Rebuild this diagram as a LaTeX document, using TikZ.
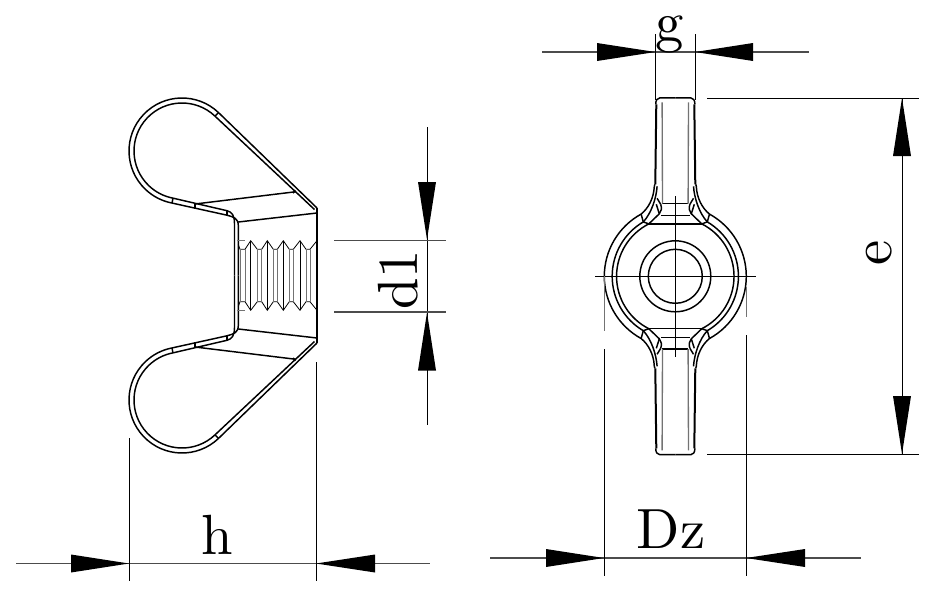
\documentclass[tikz,border=0pt]{standalone}
\tikzset{
  outl/.style={line width=1.1pt,black,line join=round},
  wingside/.style={line width=1.5pt,black,line join=round},
  thin1/.style={line width=0.6pt,black},
  graythin/.style={line width=0.7pt,black!55},
  dimv/.style={line width=0.7pt,black},
  dimh/.style={line width=0.8pt,black!70},
  lab/.style={anchor=base,inner sep=0pt,scale=4.25,font=\fontsize{10}{12}\selectfont},
  tipfill/.style={fill=black,draw=none}
}
\newcommand{\hdimtip}[3]{\fill[tipfill] (#1,#3) -- (#2,#3-9) -- (#2,#3+9) -- cycle;}
\newcommand{\vdimtip}[3]{\fill[tipfill] (#3,#1) -- (#3-9,#2) -- (#3+9,#2) -- cycle;}
\begin{document}
\begin{tikzpicture}[x=0.75pt,y=-0.75pt]
\useasboundingbox (0,0) rectangle (936,600);
% ---------- left view ----------
\foreach \s in {1,-1}{
\begin{scope}[shift={(0,275.5)},yscale=\s]
  \draw[outl] (317,-67.5) -- ([shift={(313.5:53)}]182,-124.5)
     arc[start angle=313.5,end angle=100.9,radius=53]
     -- (227,-60.3) .. controls (234,-58.5) and (238.3,-57) .. (238.3,-50) -- (238.3,0);
  \draw[outl] (314.5,-66) -- ([shift={(313.5:48)}]182,-124.5)
     arc[start angle=313.5,end angle=100.9,radius=48]
     -- (227,-64.8) .. controls (232,-63.5) and (234.5,-60) .. (234.5,-52) -- (234.5,0);
  \draw[outl] (218.5,-162.9) -- (215,-159.3);
  \draw[outl] (172,-72.5) -- (173,-77.5);
  \draw[outl] (195,-71.5) -- (195,-66.5);
  \draw[outl] (226.8,-64.8) -- (226.8,-60);
  \draw[outl] (195,-71.5) -- (296,-83.8);
  \draw[outl] (238.3,-53.5) -- (317,-62.5);
  \draw[outl] (317,-67.5) -- (317,0);
  \draw[outl] (295.5,-85) -- (293,-82.5);
  % thread
  \draw[thin1] (238.3,-31) -- (240,-26.2) -- (245,-26.2) -- (250.7,-34.8) -- (257.3,-26.2) -- (261.7,-26.2)
     -- (267.3,-34.8) -- (273.3,-26.2) -- (277.3,-26.2) -- (283.3,-34.8) -- (289.3,-26.2) -- (293.3,-26.2)
     -- (300,-34.8) -- (306,-26.2) -- (310,-26.2) -- (317,-34.8);
  \draw[graythin] (236.5,-34.8) -- (245,-34.8);
  \foreach \x in {250.7,267.3,283.3,300}{\draw[thin1] (\x,-34.8) -- (\x,0);}
  \foreach \x in {240,245,257.3,261.7,273.3,277.3,289.3,293.3,306,310}{\draw[graythin] (\x,-26.2) -- (\x,0);}
\end{scope}
}
% ---------- right view ----------
\foreach \sx/\sy in {1/1,-1/1,1/-1,-1/-1}{
\begin{scope}[shift={(675.3,276.3)},xscale=\sx,yscale=\sy]
  \draw[outl] (0,-178.4) -- (-15.5,-178.4) .. controls (-18,-178.4) and (-19.6,-176) .. (-19.6,-172);
  \draw[wingside] (-19,-172) -- (-20,-92);
  \draw[outl] (-20.4,-92) -- (-21,-90) .. controls (-21.5,-78) and (-27,-68) .. (-34.2,-62.2)
     arc[start angle=241.2,end angle=180,radius=71];
  \draw[outl] (-18.2,-90) .. controls (-19,-78) and (-24,-63) .. (-32,-54.4)
     arc[start angle=239.6,end angle=180,radius=63];
  \draw[outl] (-14.6,-72) .. controls (-13.2,-68) and (-14,-65) .. (-16,-62.5) -- (-26.5,-52.4)
     arc[start angle=243.2,end angle=180,radius=58.7];
  \draw[outl] (-34.2,-62.2) -- (-32,-54.4) -- (-26.5,-52.4);
  \draw[outl] (-18.2,-78) -- (-14.6,-72);
  \draw[outl] (-19,-72) -- (-16,-62.5);
  \draw[outl] (0,-72.8) -- (-13,-72.8);
  \draw[outl] (0,-61) -- (-14.5,-61);
  \draw[outl] (0,-52.2) -- (-26.5,-52.2);
  \draw[graythin,line width=1pt] (-13.2,-174) -- (-12.8,-72.8);
  \draw[outl] (0,0) ++(180:35.5) arc[start angle=180,end angle=270,radius=35.5];
  \draw[outl] (0,0) ++(180:27) arc[start angle=180,end angle=270,radius=27];
\end{scope}
}
\draw[thin1] (595,276.3) -- (755.7,276.3);
\draw[thin1] (675.3,196) -- (675.3,356.7);
% ---------- dimension h ----------
\draw[dimh] (16,563.5) -- (430,563.5);
\hdimtip{129}{71}{563.5}
\hdimtip{316}{375}{563.5}
\draw[dimv] (129.5,438) -- (129.5,581);
\draw[dimv] (316,362) -- (316,581);
\node[lab] (h) at (217.5,554) {h};
% ---------- dimension d1 ----------
\draw[dimv] (427,127) -- (427,425);
\vdimtip{239.5}{182}{427}
\vdimtip{312.5}{370.5}{427}
\draw[dimh] (334,240.5) -- (446,240.5);
\draw[dimh] (334,312) -- (446,312);
\node[lab,rotate=90] (d1) at (417,280) {d1};
% ---------- dimension g ----------
\draw[dimh] (542,52) -- (809,52);
\hdimtip{655.5}{597}{52}
\hdimtip{695}{753}{52}
\draw[dimv] (655.5,34) -- (655.5,100);
\draw[dimv] (695,34) -- (695,100);
\node[lab] (g) at (670,41) {g};
% ---------- dimension e ----------
\draw[dimv] (902,98) -- (902,454);
\vdimtip{98}{156}{902}
\vdimtip{454}{396}{902}
\draw[dimv] (707,98) -- (919,98);
\draw[dimv] (707,454) -- (919,454);
\node[lab,rotate=90] (e) at (891,253) {e};
% ---------- dimension Dz ----------
\draw[dimh] (490,558) -- (861,558);
\hdimtip{604}{546}{558}
\hdimtip{746}{805}{558}
\draw[graythin] (604,276) -- (604,331);
\draw[dimv] (604,349) -- (604,576);
\draw[graythin] (746,287) -- (746,317);
\draw[dimv] (746,335) -- (746,576);
\node[lab] (Dz) at (671,548) {Dz};
\end{tikzpicture}
\end{document}
